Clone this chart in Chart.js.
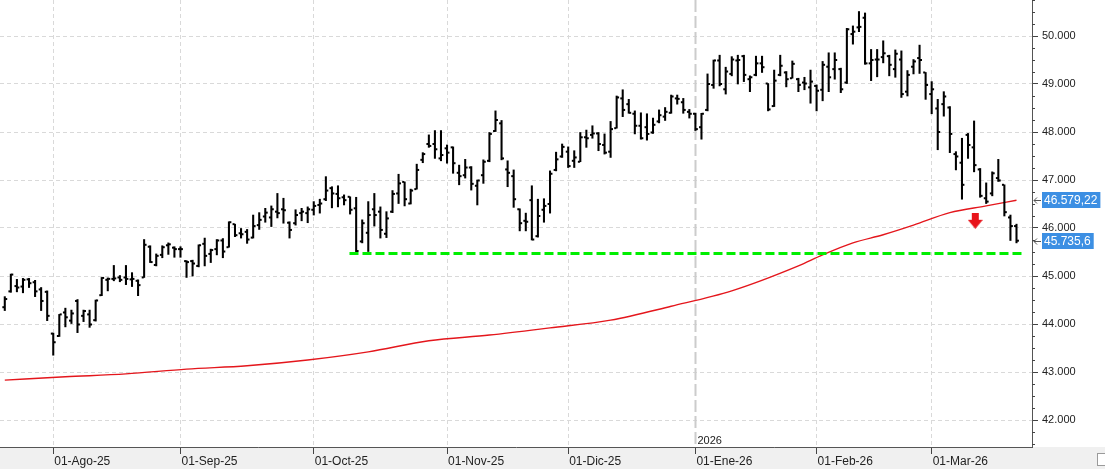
<!DOCTYPE html>
<html>
<head>
<meta charset="utf-8">
<script src="https://cdn.jsdelivr.net/npm/chart.js@4.4.1/dist/chart.umd.min.js"></script>
<style>
  html, body { margin: 0; padding: 0; background: #fff; }
  #wrap { width: 1105px; height: 469px; }
</style>
</head>
<body>
<div id="wrap"><canvas id="chart"></canvas></div>
<script>
// trading days shown (one bar each)
const dates = [
  '2025-07-22','2025-07-23','2025-07-24','2025-07-25','2025-07-28','2025-07-29','2025-07-30','2025-07-31',
  '2025-08-01','2025-08-04','2025-08-05','2025-08-06','2025-08-07','2025-08-08','2025-08-11','2025-08-12','2025-08-13','2025-08-14','2025-08-15',
  '2025-08-18','2025-08-19','2025-08-20','2025-08-21','2025-08-22','2025-08-25','2025-08-26','2025-08-27','2025-08-28','2025-08-29',
  '2025-09-01','2025-09-02','2025-09-03','2025-09-04','2025-09-05','2025-09-08','2025-09-09','2025-09-10','2025-09-11','2025-09-12',
  '2025-09-15','2025-09-16','2025-09-17','2025-09-18','2025-09-19','2025-09-22','2025-09-23','2025-09-24','2025-09-25','2025-09-26','2025-09-29','2025-09-30',
  '2025-10-01','2025-10-02','2025-10-03','2025-10-06','2025-10-07','2025-10-08','2025-10-09','2025-10-10','2025-10-13','2025-10-14','2025-10-15',
  '2025-10-16','2025-10-17','2025-10-20','2025-10-21','2025-10-22','2025-10-23','2025-10-24','2025-10-27','2025-10-28','2025-10-29','2025-10-30','2025-10-31',
  '2025-11-03','2025-11-04','2025-11-05','2025-11-06','2025-11-07','2025-11-10','2025-11-11','2025-11-12','2025-11-13','2025-11-14',
  '2025-11-17','2025-11-18','2025-11-19','2025-11-20','2025-11-21','2025-11-24','2025-11-25','2025-11-26','2025-11-28',
  '2025-12-01','2025-12-02','2025-12-03','2025-12-04','2025-12-05','2025-12-08','2025-12-09','2025-12-10','2025-12-11','2025-12-12',
  '2025-12-15','2025-12-16','2025-12-17','2025-12-18','2025-12-19','2025-12-22','2025-12-23','2025-12-24','2025-12-26','2025-12-29','2025-12-30','2025-12-31',
  '2026-01-02','2026-01-05','2026-01-06','2026-01-07','2026-01-08','2026-01-09','2026-01-12','2026-01-13','2026-01-14','2026-01-15','2026-01-16',
  '2026-01-20','2026-01-21','2026-01-22','2026-01-23','2026-01-26','2026-01-27','2026-01-28','2026-01-29','2026-01-30',
  '2026-02-02','2026-02-03','2026-02-04','2026-02-05','2026-02-06','2026-02-09','2026-02-10','2026-02-11','2026-02-12','2026-02-13',
  '2026-02-17','2026-02-18','2026-02-19','2026-02-20','2026-02-23','2026-02-24','2026-02-25','2026-02-26','2026-02-27',
  '2026-03-02','2026-03-03','2026-03-04','2026-03-05','2026-03-06','2026-03-09','2026-03-10','2026-03-11','2026-03-12','2026-03-13',
  '2026-03-16','2026-03-17','2026-03-18','2026-03-19'
];

const opens = [
  44350,44680,44790,44780,44930,44870,44720,44670,43800,43750,44240,44070,44480,44170,44200,44080,44600,44920,44940,44970,
  44970,44930,44900,44970,45610,45230,45440,45640,45590,45560,45310,45310,45210,45670,45460,45560,45740,45600,46080,45890,
  45920,45800,46060,46240,46220,46340,46390,46110,46100,46310,46310,46380,46480,46600,46830,46710,46640,46650,46410,45720,
  45900,46390,46340,45880,46340,46720,46960,46510,46810,47420,47750,47750,47450,47660,47680,47150,47100,47260,46880,47100,
  47400,48020,48180,47220,47080,46390,46150,46580,45830,46380,46500,47210,47490,47590,47400,47380,47890,47940,47970,47730,
  47590,48080,48700,48580,48380,48130,48100,47990,48220,48320,48400,48700,48620,48420,48380,48100,48460,48980,49490,48890,
  49210,49490,49580,49100,49190,49430,49010,48540,49190,49240,49120,49100,49030,48930,48960,48880,49360,49310,49310,49030,
  50040,50180,50380,49430,49510,49560,49580,49310,49510,48840,49360,49540,49240,48790,48490,48580,48510,47540,47360,47940,
  47680,47220,46620,46720,47040,46900,46220,46040
];
const highs = [
  44570,45040,44930,44950,44950,44910,44760,44690,43810,44200,44330,44290,44510,44290,44290,44500,44970,44960,45220,45010,
  45220,45070,44920,45760,45630,45460,45630,45690,45610,45610,45320,45330,45650,45790,45560,45760,45780,46130,46080,45990,
  45970,46270,46320,46410,46460,46720,46620,46130,46380,46410,46440,46550,46600,47070,46860,46880,46690,46650,46640,46170,
  46550,46720,46440,46340,46780,47120,46960,46810,47330,47570,47940,48030,48030,47730,47690,47310,47430,47280,47000,47420,
  47990,48440,48240,47400,47210,46400,46310,46880,46600,46610,47190,47580,47750,47690,47610,47990,48040,48130,47990,47960,
  48220,48750,48880,48680,48440,48400,48380,48290,48460,48510,48770,48770,48700,48470,48390,48390,49210,49500,49600,49350,
  49570,49600,49600,49170,49580,49580,49010,49290,49600,49260,49480,49120,49140,49290,48980,49470,49650,49650,49330,50160,
  50210,50510,50480,49720,49720,49900,49600,49710,49690,49280,49510,49810,49240,49050,48680,48840,48530,47590,47870,47970,
  48230,47240,46940,47170,47430,46900,46270,46080
];
const lows = [
  44280,44660,44670,44650,44760,44570,44280,44070,43350,43740,43940,44010,43820,44050,43930,44060,44590,44690,44900,44880,
  44820,44780,44590,44970,45280,45210,45380,45450,45390,45390,44970,45000,45190,45210,45280,45440,45380,45600,45820,45790,
  45680,45790,45970,46120,46030,46210,46100,45790,46060,46150,46110,46270,46310,46570,46420,46440,46480,46290,45480,45690,
  45510,46040,45790,45800,46320,46510,46460,46500,46810,47360,47680,47450,47400,47350,47140,46900,47040,46790,46480,46930,
  47380,48010,47420,46860,46430,45940,45940,45750,45810,46120,46310,47190,47470,47260,47260,47380,47680,47870,47610,47540,
  47470,48080,48320,48390,47960,47850,47830,47970,48190,48240,48390,48580,48390,48290,48030,47850,48440,48910,48960,48790,
  49170,49000,49050,48840,49170,49240,48440,48530,49170,48940,49120,48840,48880,48600,48440,48650,48840,49100,48820,49010,
  49830,50090,49410,49070,49150,49440,49170,49140,48720,48750,49210,49220,48680,48380,47630,48330,47570,47210,46600,47450,
  47170,46640,46510,46670,46970,46250,45740,45690
];
const closes = [
  44520,45030,44760,44920,44850,44680,44480,44170,43620,44200,44140,44220,43990,44270,43990,44490,44960,44940,44950,44920,
  44940,44940,44810,45650,45290,45420,45600,45660,45560,45560,45290,45260,45640,45420,45540,45740,45510,46120,45850,45870,
  45760,46040,46170,46320,46390,46310,46370,45960,46270,46340,46390,46460,46510,46780,46720,46620,46580,46380,45520,46100,
  46270,46270,45960,46200,46710,46930,46600,46780,47210,47540,47710,47640,47520,47570,47350,47080,47260,46920,46990,47380,
  47960,48250,47450,47150,46600,46100,46130,45760,46250,46460,47130,47430,47690,47290,47470,47890,47870,47970,47750,47570,
  48060,48720,48460,48400,48130,47870,47960,48150,48350,48420,48740,48690,48460,48380,48060,48380,49000,49490,49000,49260,
  49510,49500,49190,49140,49430,49350,48470,49070,49380,49100,49420,48980,49010,49050,48860,49400,49140,49500,48890,50140,
  50090,50190,49430,49500,49510,49640,49400,49630,48790,49190,49470,49500,48980,48890,48000,48740,47960,47490,46900,47730,
  47310,46670,46550,47140,46990,46330,46040,45735.6
];

// red moving average, read at a few bars
const maIdx  = [0, 10, 20, 30, 40, 50, 60, 70, 80, 90, 100, 110, 120, 131, 135, 140, 145, 150, 156, 162, 167];
const maVals = [42830, 42900, 42960, 43060, 43130, 43250, 43420, 43650, 43770, 43920, 44080, 44370, 44690, 45210, 45440, 45690, 45860, 46060, 46320, 46460, 46579.22];

const tickIdx = [8, 29, 51, 73, 93, 114, 134, 153];
const tickLabels = ['01-Ago-25', '01-Sep-25', '01-Oct-25', '01-Nov-25', '01-Dic-25', '01-Ene-26', '01-Feb-26', '01-Mar-26'];
const yearIdx = 114;
const yearLabel = '2026';

const supportLevel = 45470;
const supportFrom = 56.9;
const supportTo = 167.9;
const arrowPoint = [{ x: 160.2, y: 46150 }];

const maLast = 46579.22;
const lastClose = 45735.6;

const fontFamily = '"Liberation Sans", Arial, sans-serif';
Chart.defaults.font.family = fontFamily;
Chart.defaults.font.size = 11;
Chart.defaults.color = '#222';

function fmtEs(v, dec) {
  const parts = v.toFixed(dec).split('.');
  const int = parts[0].replace(/\B(?=(\d{3})+(?!\d))/g, '.');
  return dec ? int + ',' + parts[1] : int;
}

// red arrow marker
const arrowImg = document.createElement('canvas');
arrowImg.width = 15; arrowImg.height = 16;
(function () {
  const g = arrowImg.getContext('2d');
  g.fillStyle = '#e8141b';
  g.fillRect(4, 0, 7, 7);
  g.beginPath();
  g.moveTo(0, 7); g.lineTo(15, 7); g.lineTo(7.5, 16); g.closePath();
  g.fill();
})();

const tickH = 14;
const barW = 1.4;
const openBars = dates.map((d, i) => ({ x: i, y: [opens[i] - tickH, opens[i] + tickH] }));
const rangeBars = dates.map((d, i) => ({ x: i, y: [lows[i], highs[i]] }));
const closeBars = dates.map((d, i) => ({ x: i, y: [closes[i] - tickH, closes[i] + tickH] }));

function noPad(s) {
  s.paddingLeft = 0; s.paddingRight = 0; s.paddingTop = 0; s.paddingBottom = 0;
}

const decor = {
  id: 'decor',
  beforeDraw(chart) {
    const { ctx, chartArea: a, width, height } = chart;
    ctx.save();
    ctx.fillStyle = '#ffffff';
    ctx.fillRect(0, 0, width, height);
    ctx.fillStyle = '#f0f0f0';
    ctx.fillRect(0, a.bottom, width, height - a.bottom);
    ctx.restore();
  },
  beforeDatasetsDraw(chart) {
    const { ctx, chartArea: a, scales: { x } } = chart;
    const px = Math.round(x.getPixelForValue(yearIdx)) + 0.5;
    ctx.save();
    ctx.strokeStyle = '#cccccc';
    ctx.lineWidth = 2;
    ctx.setLineDash([12, 4]);
    ctx.beginPath();
    ctx.moveTo(px, a.top);
    ctx.lineTo(px, a.bottom);
    ctx.stroke();
    ctx.setLineDash([]);
    ctx.fillStyle = '#222';
    ctx.font = '11px ' + fontFamily;
    ctx.textBaseline = 'bottom';
    ctx.fillText(yearLabel, px + 2, a.bottom - 1);
    ctx.restore();
  },
  afterDraw(chart) {
    const { ctx, chartArea: a, scales: { y }, width, height } = chart;
    ctx.save();
    // minor ticks on the price axis
    ctx.strokeStyle = '#444';
    ctx.lineWidth = 1;
    for (let v = 41500; v <= 50750; v += 250) {
      if (v % 1000 === 0) continue;
      const py = Math.round(y.getPixelForValue(v)) + 0.5;
      ctx.beginPath();
      ctx.moveTo(a.right, py);
      ctx.lineTo(a.right + 3, py);
      ctx.stroke();
    }
    // small box in the corner
    ctx.fillStyle = '#fff';
    ctx.strokeStyle = '#9a9a9a';
    ctx.fillRect(width - 8, a.bottom + 6, 8, 12);
    ctx.strokeRect(width - 7.5, a.bottom + 6.5, 8, 12);
    // last value boxes
    const boxes = [[maLast, fmtEs(maLast, 2)], [lastClose, fmtEs(lastClose, 1)]];
    ctx.font = '12px ' + fontFamily;
    ctx.textBaseline = 'middle';
    boxes.forEach(([v, txt]) => {
      const py = Math.round(y.getPixelForValue(v));
      const w = ctx.measureText(txt).width + 5;
      ctx.fillStyle = '#3c8fe3';
      ctx.fillRect(a.right + 10, py - 8, w, 16);
      ctx.fillStyle = '#fff';
      ctx.fillText(txt, a.right + 12, py + 1);
      ctx.strokeStyle = '#555';
      ctx.beginPath();
      ctx.moveTo(a.right + 9, py + 0.5);
      ctx.lineTo(a.right + 2, py + 0.5);
      ctx.moveTo(a.right + 5, py - 2.5);
      ctx.lineTo(a.right + 2, py + 0.5);
      ctx.lineTo(a.right + 5, py + 3.5);
      ctx.stroke();
    });
    ctx.restore();
  }
};

new Chart(document.getElementById('chart'), {
  type: 'bar',
  data: {
    datasets: [
      { type: 'line', order: -3, data: arrowPoint, showLine: false, pointStyle: arrowImg, pointRadius: 8 },
      { type: 'line', order: -2, data: [{ x: supportFrom, y: supportLevel }, { x: supportTo, y: supportLevel }],
        borderColor: '#00ee00', borderWidth: 3, borderDash: [9, 4], pointRadius: 0 },
      { label: 'open', data: openBars, backgroundColor: '#000', barThickness: barW },
      { label: 'range', data: rangeBars, backgroundColor: '#000', barThickness: barW },
      { label: 'close', data: closeBars, backgroundColor: '#000', barThickness: barW },
      { type: 'line', order: 1, data: maIdx.map((x, k) => ({ x, y: maVals[k] })),
        borderColor: '#e4161c', borderWidth: 1.4, pointRadius: 0, cubicInterpolationMode: 'monotone' }
    ]
  },
  options: {
    responsive: true,
    maintainAspectRatio: false,
    animation: false,
    devicePixelRatio: 1,
    layout: { padding: 0, autoPadding: false },
    plugins: { legend: { display: false }, tooltip: { enabled: false } },
    scales: {
      x: {
        type: 'linear',
        min: -0.79,
        max: 169.56,
        offset: false,
        afterFit: (s) => { s.height = 22; noPad(s); },
        afterBuildTicks: (s) => { s.ticks = tickIdx.map(v => ({ value: v })); },
        ticks: {
          autoSkip: false,
          maxRotation: 0,
          align: 'start',
          padding: 0,
          labelOffset: 1,
          color: '#222',
          font: { size: 12 },
          callback: (v, i) => tickLabels[i]
        },
        grid: {
          offset: false,
          color: (c) => (c.tick && c.tick.value === yearIdx) ? 'rgba(0,0,0,0)' : '#d9d9d9',
          tickColor: '#444',
          tickLength: 7
        },
        border: { display: true, color: '#555', width: 1, dash: [4, 3] }
      },
      y: {
        position: 'right',
        min: 41437.5,
        max: 50750,
        afterFit: (s) => { s.width = 73; noPad(s); },
        afterBuildTicks: (s) => {
          const t = [];
          for (let v = 41500; v <= 50750; v += 250) t.push({ value: v });
          s.ticks = t;
        },
        ticks: {
          autoSkip: false,
          padding: 4,
          color: '#222',
          font: { size: 11 },
          callback: (v) => (v % 1000 === 0 ? fmtEs(v, 0) : '')
        },
        grid: {
          color: (c) => (c.tick && c.tick.value % 1000 === 0) ? '#d9d9d9' : 'rgba(0,0,0,0)',
          tickColor: (c) => (c.tick && c.tick.value % 1000 === 0) ? '#444' : 'rgba(0,0,0,0)',
          tickLength: 6
        },
        border: { display: true, color: '#555', width: 1, dash: [4, 3] }
      }
    }
  },
  plugins: [decor]
});
</script>
</body>
</html>
